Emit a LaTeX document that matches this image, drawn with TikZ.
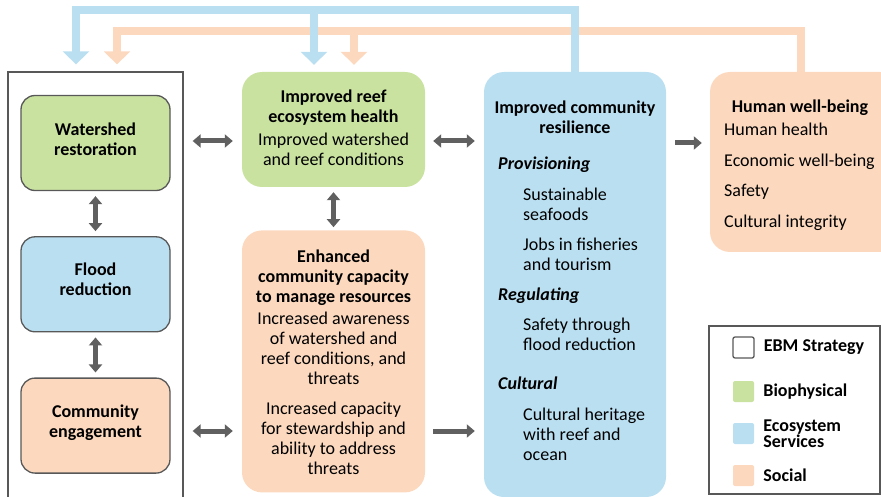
\documentclass[tikz,border=0pt]{standalone}
\usepackage{fontspec}
\setmainfont{Carlito}
\usetikzlibrary{positioning}
\usetikzlibrary{arrows.meta}
\definecolor{biophys}{RGB}{201,226,160}
\definecolor{ecoserv}{RGB}{186,223,241}
\definecolor{social}{RGB}{252,217,190}
\definecolor{arrowgray}{RGB}{96,96,96}
\definecolor{framegray}{RGB}{88,88,88}
\def\mytip{Triangle[width=13pt,length=8pt]}
\tikzset{
x=1pt,y=-1pt,
my text/.style={inner sep=0pt,font=\fontsize{18}{20}\selectfont},
my title/.style={inner sep=0pt,font=\fontsize{18}{20}\selectfont\bfseries},
my head/.style={inner sep=0pt,font=\fontsize{18}{20}\selectfont\bfseries\itshape},
my box/.style={rounded corners=20pt,minimum width=183pt},
strategy/.style={draw=framegray,line width=1.3pt,rounded corners=14pt,
  minimum width=149pt,minimum height=95pt},
bio/.style={fill=biophys},
eco/.style={fill=ecoserv},
soc/.style={fill=social},
frame/.style={draw=framegray,line width=1.3pt},
link/.style={draw=arrowgray,color=arrowgray,line width=5pt,{\mytip}-{\mytip}},
onelink/.style={draw=arrowgray,color=arrowgray,line width=5pt,-{\mytip}},
feedback/.style={line width=8pt,-{Triangle[width=26pt,length=13pt]},shorten >=7pt},
key/.style={minimum size=21pt,inner sep=0pt,rounded corners=2pt},
}
\begin{document}
\begin{tikzpicture}
\clip (0,0) rectangle (881,497);
% EBM strategy column
\node[frame,minimum width=175pt,minimum height=430pt] (ebm) at (95.5,287) {};
\node[strategy,bio] (wr) at (95.5,143) {};
\node[strategy,eco,below=45pt of wr] (fr) {};
\node[strategy,soc,below=45pt of fr] (ce) {};
\node[my title,align=center,yshift=4pt] (wrtext) at (wr) {Watershed\\restoration};
\node[my title,align=center,yshift=5pt] (frtext) at (fr) {Flood\\reduction};
\node[my title,align=center,yshift=3pt] (cetext) at (ce) {Community\\engagement};
% outcome boxes
\node[my box,bio,minimum height=115pt] (reef) at (333.5,129.5) {};
\node[my box,soc,minimum height=262pt,below=43pt of reef] (cap) {};
\node[my box,eco,minimum width=182pt,minimum height=425pt] (res) at (575,284.5) {};
\node[my box,soc,minimum width=190pt,minimum height=180pt] (hwb) at (805,162) {};
% texts
\node[my title,align=center,anchor=north] (reeftitle) at (333.5,90) {Improved reef\\ecosystem health};
\node[my text,align=center,anchor=north] (reeftext) at (333.5,132.5) {Improved watershed\\and reef conditions};
\node[my title,align=center,anchor=north] (captitle) at (333.5,250) {Enhanced\\community capacity\\to manage resources};
\node[my text,align=center,anchor=north] (captext1) at (333.5,312) {Increased awareness\\of watershed and\\reef conditions, and\\threats};
\node[my text,align=center,anchor=north] (captext2) at (333.5,402) {Increased capacity\\for stewardship and\\ability to address\\threats};
\node[my title,align=center,anchor=north] (restitle) at (575,101) {Improved community\\resilience};
\node[my head,anchor=north west] (prov) at (498,157) {Provisioning};
\node[my text,align=left,anchor=north west] (prov1) at (523,188) {Sustainable\\seafoods};
\node[my text,align=left,anchor=north west] (prov2) at (523,238) {Jobs in fisheries\\and tourism};
\node[my head,anchor=north west] (regu) at (498,288) {Regulating};
\node[my text,align=left,anchor=north west] (regu1) at (523,318) {Safety through\\flood reduction};
\node[my head,anchor=north west] (cult) at (498,377) {Cultural};
\node[my text,align=left,anchor=north west] (cult1) at (523,408) {Cultural heritage\\with reef and\\ocean};
\node[my title,anchor=north] (hwbtitle) at (800,100) {Human well-being};
\node[my text,font=\fontsize{18}{30.5}\selectfont,align=left,anchor=north west] (hwbtext) at (724,123)
  {Human health\\Economic well-being\\Safety\\Cultural integrity};
% links
\draw[link,shorten <=9pt,shorten >=9pt] (ebm.east |- 0,141) -- (reef.west |- 0,141);
\draw[link,shorten <=9pt,shorten >=9pt] (ebm.east |- 0,431) -- (cap.west |- 0,431);
\draw[link,shorten <=5pt,shorten >=5pt] (wr) -- (fr);
\draw[link,shorten <=5pt,shorten >=5pt] (fr) -- (ce);
\draw[link,shorten <=5pt,shorten >=3pt] (reef) -- (cap);
\draw[link,shorten <=8pt,shorten >=9pt] (reef.east |- 0,141) -- (res.west |- 0,141);
\draw[onelink,shorten <=8pt,shorten >=9pt] (cap.east |- 0,431) -- (res.west |- 0,431);
\draw[onelink,shorten <=9pt,shorten >=8pt] (res.east |- 0,143) -- (hwb.west |- 0,143);
% feedback to strategies
\coordinate (socL) at ([xshift=21.5pt]ebm.north);
\coordinate (socR) at ([xshift=20.5pt]reef.north);
\coordinate (ecoL) at ([xshift=-19.5pt]ebm.north);
\coordinate (ecoR) at ([xshift=-19.5pt]reef.north);
\draw[feedback,color=social] ([xshift=-4pt]hwb.north) -- ++(0,-41) -| (socL);
\draw[feedback,color=social] (socR |- 0,31) -- (socR);
\draw[feedback,color=ecoserv] (res.north) -- ++(0,-62) -| (ecoL);
\draw[feedback,color=ecoserv] (ecoR |- 0,10) -- (ecoR);
% legend
\node[frame,minimum width=171pt,minimum height=168pt] (legend) at (794.5,410) {};
\node[key,frame] (k1) at (743.5,347.5) {};
\node[my title,right=9pt of k1] (l1) {EBM Strategy};
\node[key,bio] (k2) at (743.5,391.5) {};
\node[my title,right=9pt of k2] (l2) {Biophysical};
\node[key,eco] (k3) at (743.5,433.5) {};
\node[my title,font=\fontsize{18}{16}\selectfont\bfseries,align=left,right=9pt of k3] (l3) {Ecosystem\\Services};
\node[key,soc] (k4) at (743.5,475.5) {};
\node[my title,right=9pt of k4] (l4) {Social};
\end{tikzpicture}
\end{document}
